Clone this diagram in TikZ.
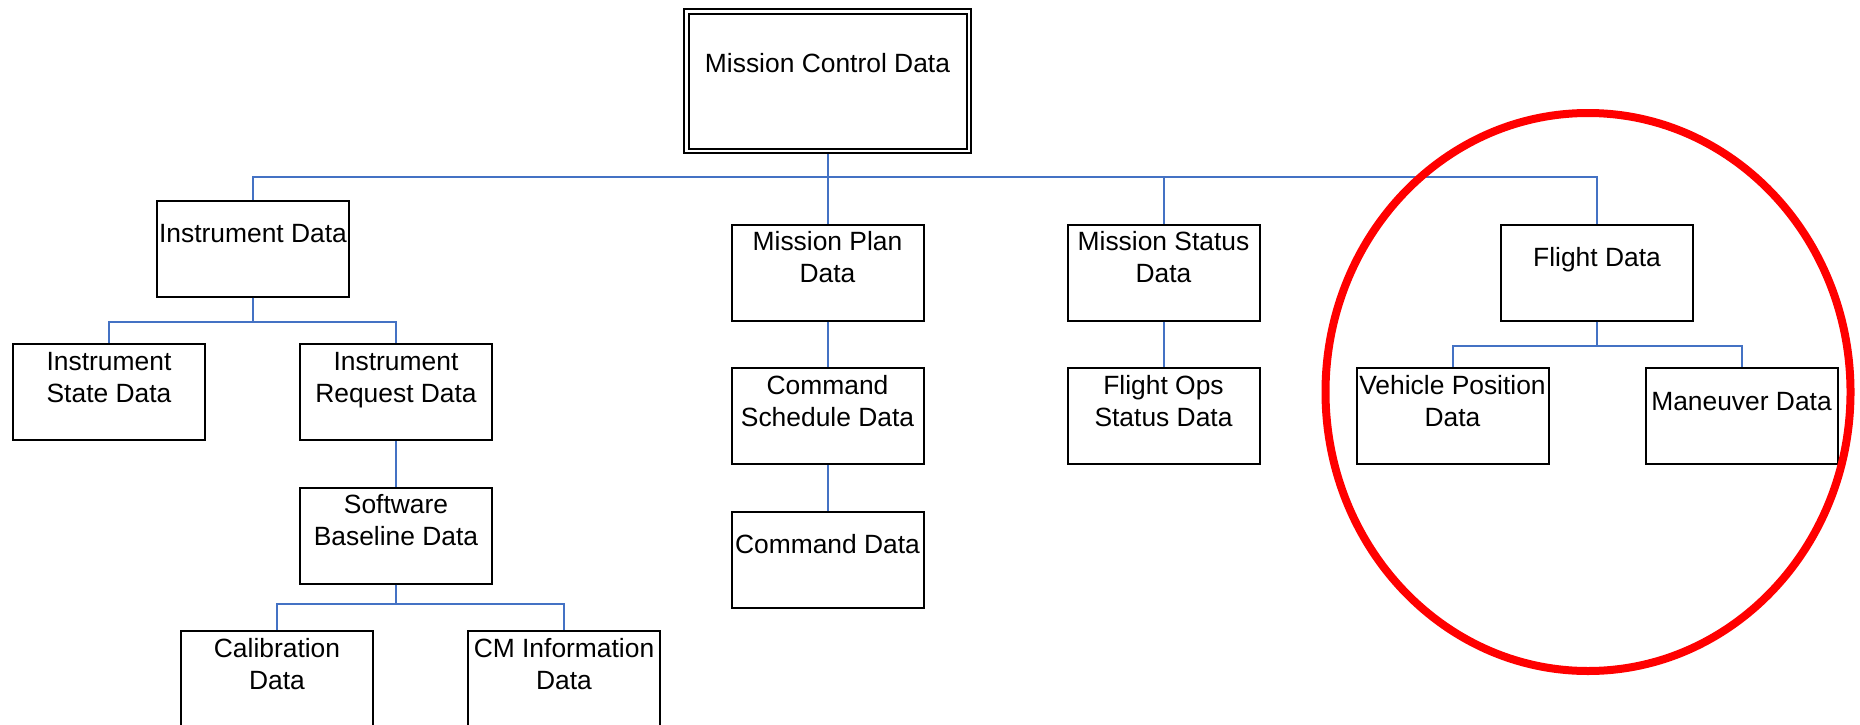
\documentclass[tikz,border=0pt]{standalone}
\usepackage{fontspec}
\setmainfont{Liberation Sans}
\usetikzlibrary{positioning}
\definecolor{linkblue}{HTML}{4472C4}
\newcommand{\boxtxt}[2][192pt]{\parbox[c]{#1}{\centering\strut #2\strut}}

\begin{document}
\begin{tikzpicture}[node distance=143.5pt,on grid,
    block/.style={draw,line width=2pt,inner sep=0pt,minimum width=192pt,
      text height=41.7pt,text depth=54.3pt,font=\fontsize{26.4pt}{32pt}\selectfont},
    link/.style={linkblue,line width=2pt},
    elbow/.style={to path={-- ++(0,-#1) -| (\tikztotarget)}},
    elbow/.default=24pt]
  \useasboundingbox (0,0) rectangle (1860pt,-725pt);
  % top level
  \node[block,double,double distance=2.6pt,outer sep=3.3pt,minimum width=282.6pt,
        text height=60.9pt,text depth=78.1pt] (mc) at (827.5pt,-81.3pt) {\boxtxt[280pt]{Mission Control Data}};
  \node[block] (mplan) [below=191.4pt of mc] {\boxtxt{Mission Plan\\Data}};
  \node[block] (instr) [above left=24pt and 574.5pt of mplan] {\boxtxt{Instrument Data}};
  \node[block] (mstat) [right=336pt of mplan] {\boxtxt{Mission Status\\Data}};
  \node[block] (flight) [right=433.5pt of mstat] {\boxtxt{Flight Data}};
  % instrument branch
  \node[block] (istate) [below left=143.5pt and 144pt of instr] {\boxtxt{Instrument\\State Data}};
  \node[block] (ireq) [below right=143.5pt and 143pt of instr] {\boxtxt{Instrument\\Request Data}};
  \node[block] (swbase) [below=of ireq] {\boxtxt{Software\\Baseline Data}};
  \node[block] (calib) [below left=143.5pt and 119pt of swbase] {\boxtxt{Calibration\\Data}};
  \node[block] (cminfo) [below right=143.5pt and 168pt of swbase] {\boxtxt{CM Information\\Data}};
  % plan and status branches
  \node[block] (cmdsched) [below=of mplan] {\boxtxt{Command\\Schedule Data}};
  \node[block] (cmd) [below=of cmdsched] {\boxtxt{Command Data}};
  \node[block] (flops) [below=of mstat] {\boxtxt{Flight Ops\\Status Data}};
  % flight branch
  \node[block] (vehpos) [below left=143.5pt and 144.5pt of flight] {\boxtxt{Vehicle Position\\Data}};
  \node[block] (maneuv) [below right=143.5pt and 144.5pt of flight] {\boxtxt{Maneuver Data}};

  \path[link]
    (mc.south) edge[elbow=23pt] (instr.north)
               edge (mplan.north)
               edge[elbow=23pt] (mstat.north)
               edge[elbow=23pt] (flight.north)
    (instr.south) edge[elbow] (istate.north)
                  edge[elbow] (ireq.north)
    (ireq.south) edge (swbase.north)
    (swbase.south) edge[elbow=19pt] (calib.north)
                   edge[elbow=19pt] (cminfo.north)
    (mplan.south) edge (cmdsched.north)
    (cmdsched.south) edge (cmd.north)
    (mstat.south) edge (flops.north)
    (flight.south) edge[elbow] (vehpos.north)
                   edge[elbow] (maneuv.north);

  % highlight
  \draw[red,line width=8pt] ([shift={(-9pt,-119.3pt)}]flight.center) ellipse [x radius=262.5pt,y radius=279pt];
\end{tikzpicture}
\end{document}
